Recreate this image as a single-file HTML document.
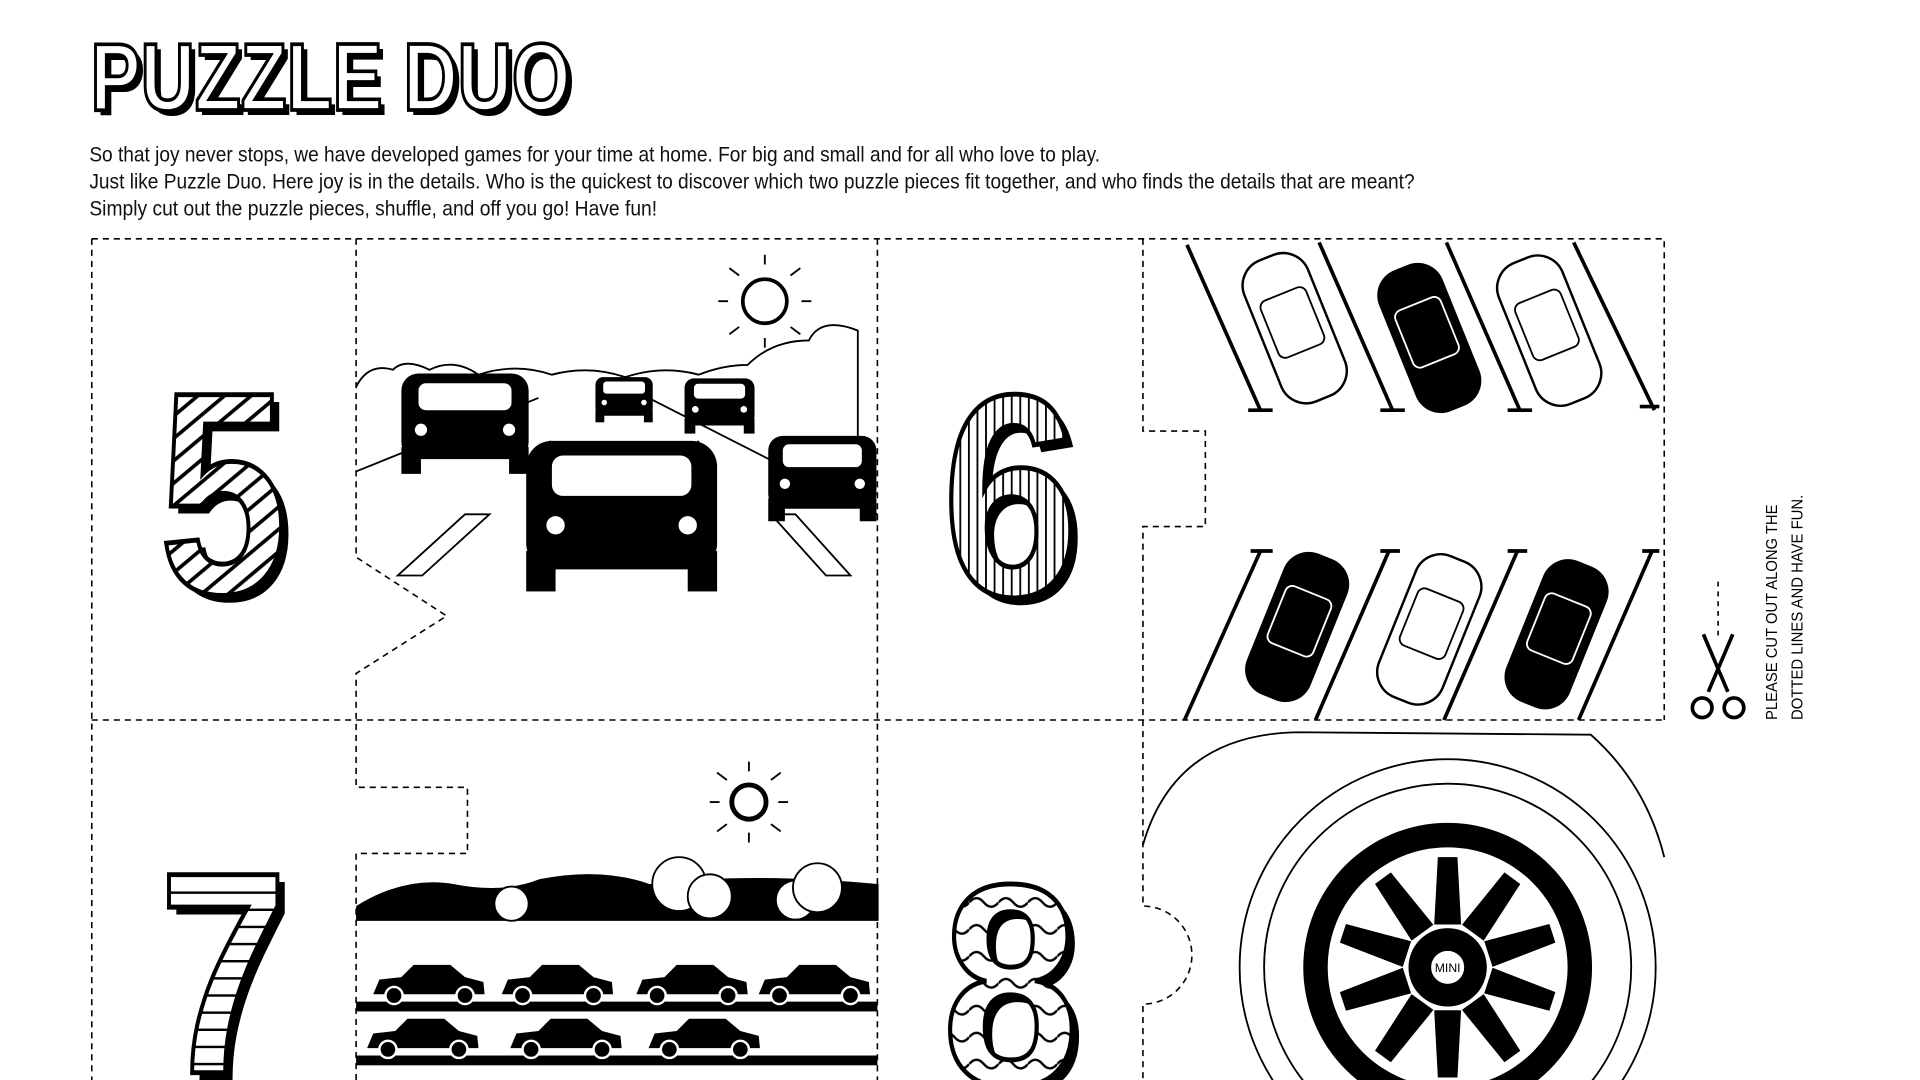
<!DOCTYPE html>
<html><head><meta charset="utf-8"><style>
html,body{margin:0;padding:0;background:#fff;width:1920px;height:1080px;overflow:hidden}
svg{display:block;overflow:hidden}
</style></head><body>
<svg width="1920" height="1080" viewBox="0 0 1569 882" preserveAspectRatio="none" xmlns="http://www.w3.org/2000/svg" font-family="'Liberation Sans Narrow','Liberation Sans',sans-serif">
<defs>
<pattern id="str" width="14" height="14" patternUnits="userSpaceOnUse" patternTransform="rotate(-40)"><rect width="14" height="14" fill="#fff"/><rect width="14" height="3" fill="#000"/></pattern>
<pattern id="vert" width="7" height="10" patternUnits="userSpaceOnUse"><rect width="7" height="10" fill="#fff"/><rect width="1.5" height="10" fill="#000"/></pattern>
<pattern id="hor" width="10" height="14" patternUnits="userSpaceOnUse"><rect width="10" height="14" fill="#fff"/><rect width="10" height="2" fill="#000"/></pattern>
<pattern id="wav" width="24" height="22" patternUnits="userSpaceOnUse"><rect width="24" height="22" fill="#fff"/><path d="M0 11 Q6 4 12 11 T24 11" stroke="#000" stroke-width="2" fill="none"/></pattern>
<g id="car"><rect x="-52" y="-40" width="104" height="70" rx="14" fill="#000"/><rect x="-38" y="-32" width="76" height="22" rx="6" fill="#fff"/><rect x="-52" y="20" width="16" height="22" fill="#000"/><rect x="36" y="20" width="16" height="22" fill="#000"/><circle cx="-36" cy="6" r="5" fill="#fff"/><circle cx="36" cy="6" r="5" fill="#fff"/></g>
<g id="pcar"><rect x="-28" y="-62" width="56" height="124" rx="22" fill="#fff" stroke="#000" stroke-width="2"/><rect x="-20" y="-30" width="40" height="50" rx="6" fill="none" stroke="#000" stroke-width="1.5"/></g>
<g id="pcarB"><rect x="-28" y="-62" width="56" height="124" rx="22" fill="#000"/><rect x="-20" y="-30" width="40" height="50" rx="6" fill="none" stroke="#fff" stroke-width="1.5"/></g>
<g id="scar"><path d="M-45 8 L-40 -4 L-22 -6 L-12 -16 L18 -16 L30 -6 L45 -2 L46 8 Z" fill="#000"/><circle cx="-28" cy="9" r="7" fill="#000" stroke="#fff" stroke-width="2"/><circle cx="30" cy="9" r="7" fill="#000" stroke="#fff" stroke-width="2"/></g>
</defs>

<!-- Title -->
<text x="78" y="94" font-size="78" font-weight="bold" fill="#000" textLength="392" lengthAdjust="spacingAndGlyphs">PUZZLE DUO</text>
<text x="74" y="90" font-size="78" font-weight="bold" fill="#fff" stroke="#000" stroke-width="3" textLength="392" lengthAdjust="spacingAndGlyphs">PUZZLE DUO</text>

<!-- Intro text -->
<g font-size="17" fill="#111">
<text x="73" y="132" textLength="826" lengthAdjust="spacingAndGlyphs">So that joy never stops, we have developed games for your time at home. For big and small and for all who love to play.</text>
<text x="73" y="154" textLength="1083" lengthAdjust="spacingAndGlyphs">Just like Puzzle Duo. Here joy is in the details. Who is the quickest to discover which two puzzle pieces fit together, and who finds the details that are meant?</text>
<text x="73" y="176" textLength="464" lengthAdjust="spacingAndGlyphs">Simply cut out the puzzle pieces, shuffle, and off you go! Have fun!</text>
</g>

<!-- Dashed grid -->
<g stroke="#000" stroke-width="1.3" stroke-dasharray="5,4" fill="none">
<path d="M75 195 H1360 V588"/>
<path d="M75 195 V882"/>
<path d="M75 588 H1360"/>
<path d="M291 195 V455 L365 503 L291 550 V643 H382 V697 H291 V882"/>
<path d="M717 195 V882"/>
<path d="M934 195 V352 H985 V430 H934 V740 A40 40 0 0 1 934 820 V882"/>
</g>

<!-- Numbers -->
<g font-family="'Liberation Sans',sans-serif" font-weight="bold" font-size="235">
<text x="136" y="490" fill="#000" textLength="105" lengthAdjust="spacingAndGlyphs">5</text><text x="130" y="484" fill="url(#str)" stroke="#000" stroke-width="4" textLength="105" lengthAdjust="spacingAndGlyphs">5</text>
<text x="776" y="492" fill="#000" textLength="112" lengthAdjust="spacingAndGlyphs">6</text><text x="770" y="486" fill="url(#vert)" stroke="#000" stroke-width="4" textLength="112" lengthAdjust="spacingAndGlyphs">6</text>
<text x="136" y="882" fill="#000" textLength="105" lengthAdjust="spacingAndGlyphs">7</text><text x="130" y="876" fill="url(#hor)" stroke="#000" stroke-width="4" textLength="105" lengthAdjust="spacingAndGlyphs">7</text>
<text x="776" y="892" fill="#000" textLength="112" lengthAdjust="spacingAndGlyphs">8</text><text x="770" y="886" fill="url(#wav)" stroke="#000" stroke-width="4" textLength="112" lengthAdjust="spacingAndGlyphs">8</text>
</g>

<!-- Highway scene -->
<g stroke="#000" fill="none" stroke-width="1.5">
<circle cx="625" cy="246" r="18" stroke-width="3"/>
<path d="M625 216v-8M625 276v8M595 246h-8M655 246h8M604 225l-8-6M646 225l8-6M604 267l-8 6M646 267l8 6"/>
<path d="M291 316 q10-20 30-14 q10-10 30 0 q20-10 40 4 q30-10 60 0 q30-8 60 2 q30-10 60 -2 q20-8 40 -8 q20 -20 50 -20 q10-20 40-8 v140"/>
<path d="M291 385 L440 325 M530 325 L717 420"/>
<path d="M325 470 L380 420 H400 L345 470 Z M630 420 H650 L695 470 H675 Z"/>
<path d="M440 380 L450 360 M570 360 L585 380"/>
</g>
<use href="#car" transform="translate(380 345)"/>
<use href="#car" transform="translate(510 326) scale(0.45)"/>
<use href="#car" transform="translate(588 331) scale(0.55)"/>
<use href="#car" transform="translate(672 390) scale(0.85)"/>
<use href="#car" transform="translate(508 420) scale(1.5)"/>

<!-- Parking scene -->
<g stroke="#000" stroke-width="3" fill="none">
<path d="M970 200 L1030 335 M1078 198 L1138 335 M1182 198 L1242 335 M1286 198 L1352 335"/>
<path d="M1020 335h20M1128 335h20M1232 335h20M1340 332h16"/>
<path d="M1030 450 L968 588 M1135 450 L1075 588 M1240 450 L1180 588 M1350 450 L1290 588"/>
<path d="M1022 450h18M1128 450h16M1232 450h16M1342 450h14"/>
</g>
<use href="#pcar" transform="translate(1058 268) rotate(-22)"/>
<use href="#pcarB" transform="translate(1168 276) rotate(-22)"/>
<use href="#pcar" transform="translate(1266 270) rotate(-22)"/>
<use href="#pcarB" transform="translate(1060 512) rotate(22)"/>
<use href="#pcar" transform="translate(1168 514) rotate(22)"/>
<use href="#pcarB" transform="translate(1272 518) rotate(22)"/>

<!-- Train scene -->
<g stroke="#000" stroke-width="1.5" fill="none">
<circle cx="612" cy="655" r="14" stroke-width="4"/>
<path d="M612 630v-8M612 680v8M588 655h-8M636 655h8M594 637l-8-6M630 637l8-6M594 673l-8 6M630 673l8 6"/>
</g>
<path d="M291 740 q40 -25 80 -18 q40 8 70 -4 q50-10 90 4 q80-10 187 0 v30 H291Z" fill="#000"/>
<g fill="#fff" stroke="#000" stroke-width="1.5">
<circle cx="555" cy="722" r="22"/><circle cx="580" cy="732" r="18"/><circle cx="650" cy="735" r="16"/><circle cx="668" cy="725" r="20"/><circle cx="418" cy="738" r="14"/>
</g>
<rect x="291" y="818" width="426" height="8" fill="#000"/>
<rect x="291" y="862" width="426" height="8" fill="#000"/>
<use href="#scar" transform="translate(350 804)"/><use href="#scar" transform="translate(455 804)"/><use href="#scar" transform="translate(565 804)"/><use href="#scar" transform="translate(665 804)"/>
<use href="#scar" transform="translate(345 848)"/><use href="#scar" transform="translate(462 848)"/><use href="#scar" transform="translate(575 848)"/>

<!-- Wheel scene -->
<g stroke="#000" fill="none" stroke-width="1.5">
<path d="M934 690 Q960 600 1060 598 L1300 600 Q1345 640 1360 700"/>
<circle cx="1183" cy="790" r="170"/>
<circle cx="1183" cy="790" r="150"/>
</g>
<circle cx="1183" cy="790" r="118" fill="#000"/>
<circle cx="1183" cy="790" r="98" fill="#fff"/>
<g fill="#000">
<g id="spk"><path d="M1175 700 L1191 700 L1194 755 L1172 755 Z"/></g>
<use href="#spk" transform="rotate(36 1183 790)"/><use href="#spk" transform="rotate(72 1183 790)"/><use href="#spk" transform="rotate(108 1183 790)"/><use href="#spk" transform="rotate(144 1183 790)"/><use href="#spk" transform="rotate(180 1183 790)"/><use href="#spk" transform="rotate(216 1183 790)"/><use href="#spk" transform="rotate(252 1183 790)"/><use href="#spk" transform="rotate(288 1183 790)"/><use href="#spk" transform="rotate(324 1183 790)"/>
<circle cx="1183" cy="790" r="32"/>
</g>
<circle cx="1183" cy="790" r="14" fill="#fff" stroke="#000"/>
<text x="1183" y="794" font-size="10" text-anchor="middle" font-family="'Liberation Sans',sans-serif">MINI</text>

<!-- Scissors and side text -->
<path d="M1404 475 V520" stroke="#000" stroke-dasharray="4,4" stroke-width="1.3"/>
<g stroke="#000" stroke-width="3" fill="none">
<path d="M1392 518 L1412 565 M1416 518 L1396 565"/>
<circle cx="1391" cy="578" r="8"/><circle cx="1417" cy="578" r="8"/>
</g>
<g font-family="'Liberation Sans',sans-serif" font-size="13" fill="#000">
<text transform="translate(1452 588) rotate(-90)" textLength="176" lengthAdjust="spacingAndGlyphs">PLEASE CUT OUT ALONG THE</text>
<text transform="translate(1473 588) rotate(-90)" textLength="184" lengthAdjust="spacingAndGlyphs">DOTTED LINES AND HAVE FUN.</text>
</g>
</svg>
</body></html>
